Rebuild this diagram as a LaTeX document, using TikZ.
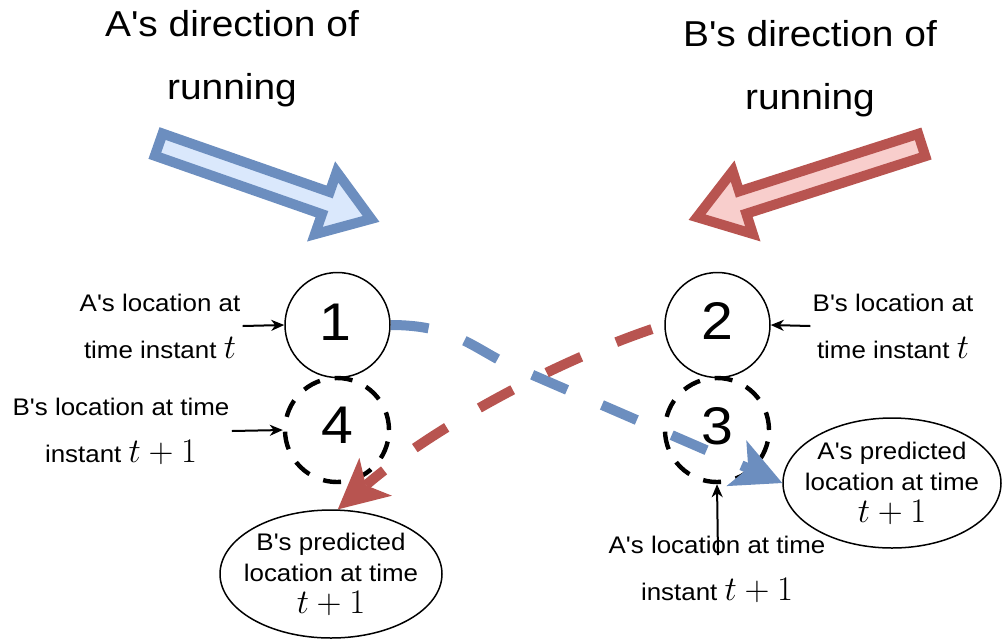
\documentclass[tikz,border=0pt]{standalone}
\usepackage{fontspec}
\newfontfamily\plainsans{Liberation Sans}[FakeStretch=1.08]
\usetikzlibrary{arrows.meta,shapes.geometric}
\definecolor{runblue}{HTML}{6C8EBF}
\definecolor{runbluefill}{HTML}{DAE8FC}
\definecolor{runred}{HTML}{B85450}
\definecolor{runredfill}{HTML}{F8CECC}
\newcommand\tmath[1]{{\fontsize{16}{16}\selectfont$#1$}}

\begin{document}
\begin{tikzpicture}[x=0.5pt,y=-0.5pt,
  heading/.style={font=\plainsans\fontsize{18}{31.5}\selectfont, align=center, inner sep=0pt},
  note/.style={font=\plainsans\fontsize{12}{23.5}\selectfont, align=center, inner sep=1pt},
  digit/.style={font=\plainsans\fontsize{26.5}{26.5}\selectfont, inner sep=0pt, anchor=base},
  now/.style={circle, draw, line width=0.75pt, fill=white, minimum size=52.5pt, inner sep=0pt},
  later/.style={circle, draw, line width=2.2pt, dash pattern=on 9pt off 7.5pt, minimum size=52pt, inner sep=0pt},
  guess/.style={ellipse, draw, line width=0.75pt, fill=white, inner xsep=-7pt, inner ysep=0pt, align=center, font=\plainsans\fontsize{12}{15.75}\selectfont},
  pointer/.style={-{Stealth[length=6.5pt,width=5.5pt,inset=2pt]}, line width=1pt},
  track/.style={line width=5pt, dash pattern=on 19pt off 19pt, -{Stealth[length=25pt,width=25pt,inset=6.5pt,line width=0pt]}},
  bigarrow/.style={line width=5pt, miter limit=10, line join=miter},
]
\useasboundingbox (0,0) rectangle (1002,639);

% headings
\node[heading] (hA) at (232,59) {A's direction of\\running};
\node[heading] (hB) at (810,69) {B's direction of\\running};

% direction-of-running block arrows
\begin{scope}[shift={(154,143)}, rotate=-19.27]
  \draw[bigarrow, draw=runblue, fill=runbluefill]
    (5,-11.75) -- (182,-11.75) -- (182,-33) -- (230,0) -- (182,33) -- (182,11.75) -- (5,11.75) -- cycle;
\end{scope}
\begin{scope}[shift={(926.5,143.5)}, rotate=197.8]
  \draw[bigarrow, draw=runred, fill=runredfill]
    (5,-11.75) -- (193,-11.75) -- (193,-33) -- (241,0) -- (193,33) -- (193,11.75) -- (5,11.75) -- cycle;
\end{scope}

% locations at t and t+1
\node[now] (c1) at (337.5,325) {};
\node[now] (c2) at (717.5,325) {};
\node[later] (c4) at (337,430) {};
\node[later] (c3) at (717,430) {};
\node[digit] (d1) at (335,340) {1};
\node[digit] (d2) at (717.5,339) {2};
\node[digit] (d4) at (337,443) {4};
\node[digit] (d3) at (717,444) {3};

% predicted locations
\node[guess, minimum width=111pt, minimum height=64pt] (eB) at (331,574)
  {B's predicted\\location at time\\\tmath{t+1}};
\node[guess, minimum width=109pt, minimum height=65pt] (eA) at (892,483)
  {A's predicted\\location at time\\\tmath{t+1}};

% side notes
\node[note] (lA1) at (160,326) {A's location at\\time instant \tmath{t}};
\node[note] (lB1) at (893,326) {B's location at\\time instant \tmath{t}};
\node[note] (lB2) at (121,431) {B's location at time\\instant \tmath{t+1}};
\node[note] (lA2) at (717,569) {A's location at time\\instant \tmath{t+1}};

\draw[pointer] (lA1.east) -- (c1.west);
\draw[pointer] (lB2.east) -- (c4.west);
\draw[pointer] (lB1.west) -- (c2.east);
\coordinate (a3) at (718,555);
\draw[pointer] (a3) -- (c3.south);

% predicted tracks
\draw[track, runblue] (c1.east) .. controls (450,325) and (470,345) .. (505,363) -- (eA.west);
\draw[track, runred, dash phase=31.5pt] (c2.west) .. controls (555,360) and (430,430) .. (eB.84);
\end{tikzpicture}
\end{document}
